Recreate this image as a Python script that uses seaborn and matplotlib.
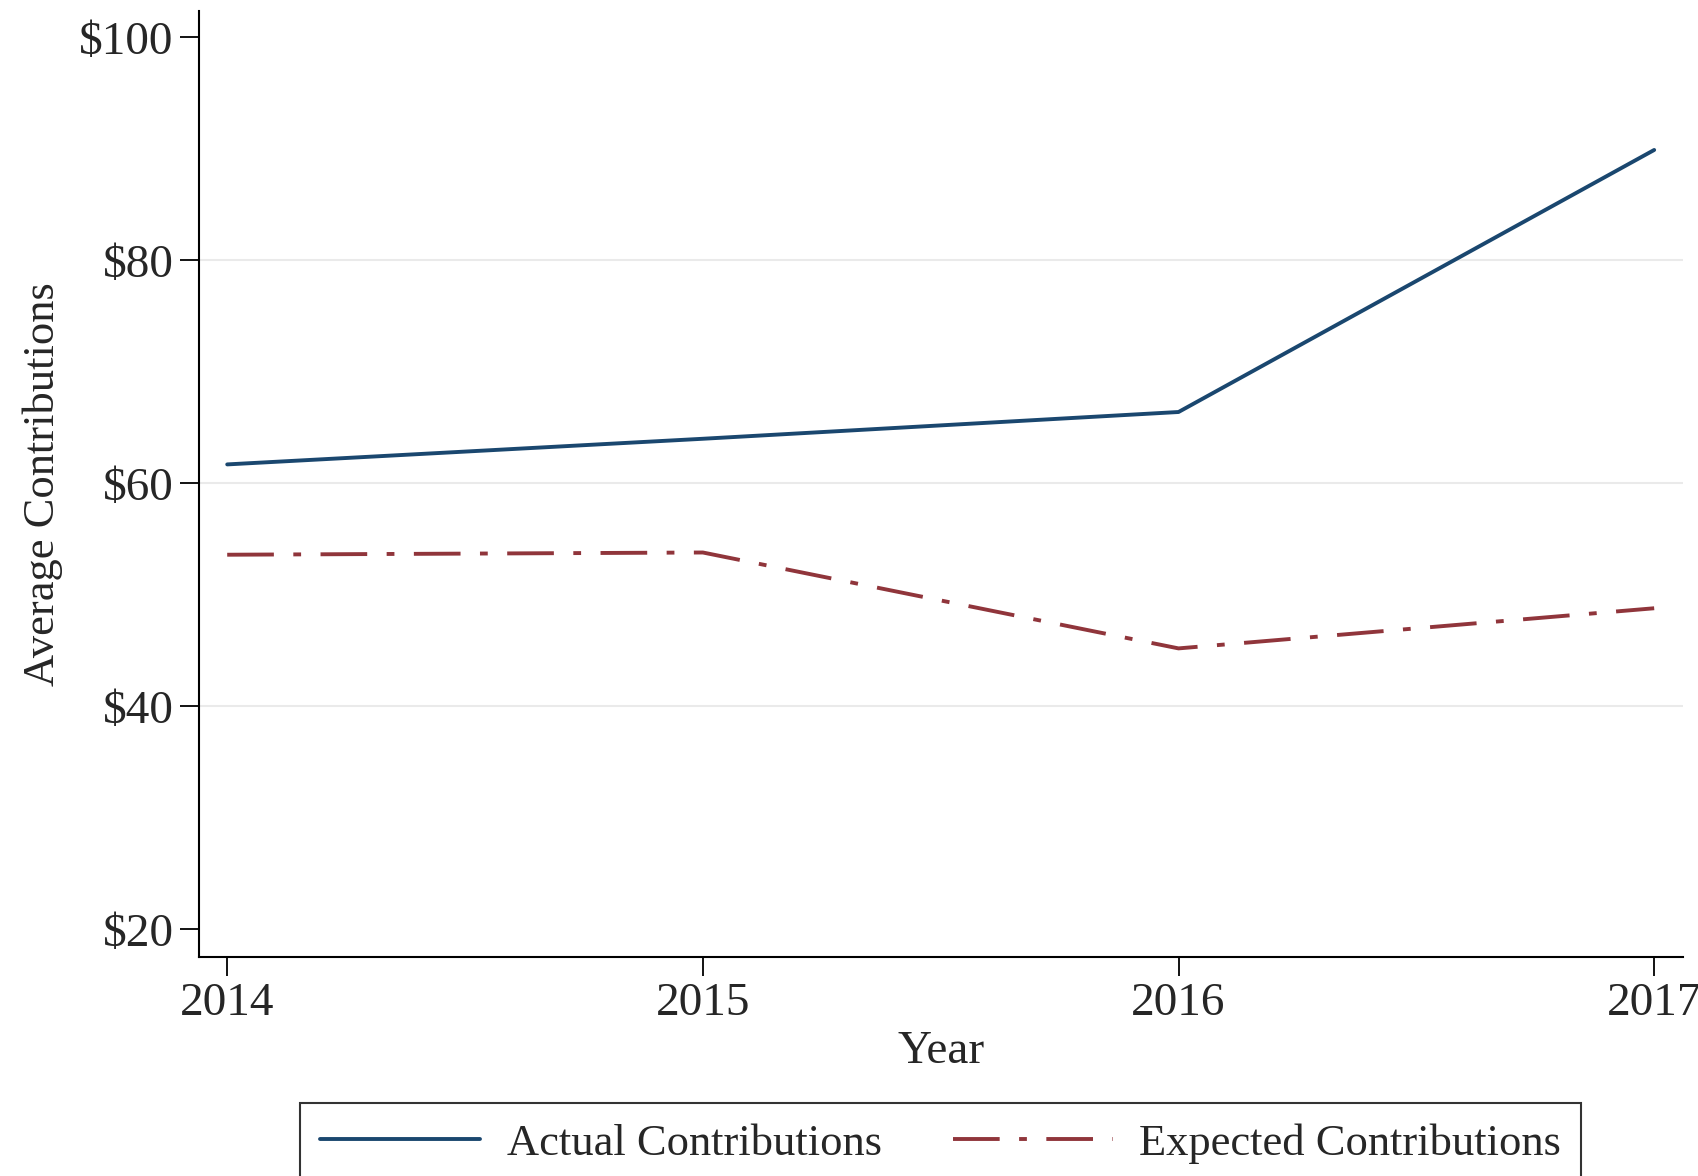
import pandas as pd
import matplotlib
matplotlib.use("Agg")
import matplotlib.pyplot as plt
import seaborn as sns

years = [2014, 2015, 2016, 2017]
actual = [61.7, 64.0, 66.4, 89.9]
expected = [53.6, 53.8, 45.2, 48.8]
y_ticks = [20, 40, 60, 80, 100]
y_tick_labels = ["$20", "$40", "$60", "$80", "$100"]

df = pd.DataFrame({"Year": years, "Actual": actual, "Expected": expected})

sns.set_theme(style="white")
plt.rcParams["font.family"] = ["Liberation Serif", "DejaVu Serif"]

fig = plt.figure(figsize=(16.98, 11.76), dpi=100)
ax = fig.add_axes([0.117, 0.186, 0.874, 0.805])

sns.lineplot(data=df, x="Year", y="Actual", color="#1a476f", linewidth=2.8,
             label="Actual Contributions", ax=ax)
sns.lineplot(data=df, x="Year", y="Expected", color="#90353b", linewidth=2.8,
             label="Expected Contributions", ax=ax)
ax.lines[1].set_dashes([12, 5, 2, 5])

ax.set_xlim(2013.94, 2017.06)
ax.set_ylim(17.5, 102.4)
ax.set_xticks(years)
ax.set_xticklabels([str(y) for y in years])
ax.set_yticks(y_ticks)
ax.set_yticklabels(y_tick_labels)

for y in [40, 60, 80]:
    ax.axhline(y, color="#eaeaea", linewidth=1.5, zorder=0)

ax.tick_params(axis="both", labelsize=34, length=14, width=1.3, color="black",
               direction="out", left=True, bottom=True, pad=4)
ax.set_xlabel("Year", fontsize=34, labelpad=4)
ax.set_ylabel("Average Contributions", fontsize=32, labelpad=12)

for side in ["top", "right"]:
    ax.spines[side].set_visible(False)
for side in ["left", "bottom"]:
    ax.spines[side].set_color("black")
    ax.spines[side].set_linewidth(1.5)

# legend box sits under the plot area, centred on the axes rather than the figure
ax.get_legend().remove()
handles, labels = ax.get_legend_handles_labels()
leg = fig.legend(handles, labels, loc="upper center", bbox_to_anchor=(0.554, 0.062),
                 borderaxespad=0, ncol=2, fontsize=32, frameon=True, fancybox=False,
                 handlelength=3.6, columnspacing=1.6, borderpad=0.45,
                 handletextpad=0.6)
leg.get_frame().set_edgecolor("black")
leg.get_frame().set_linewidth(1.5)

fig.savefig("out.png", dpi=100)
